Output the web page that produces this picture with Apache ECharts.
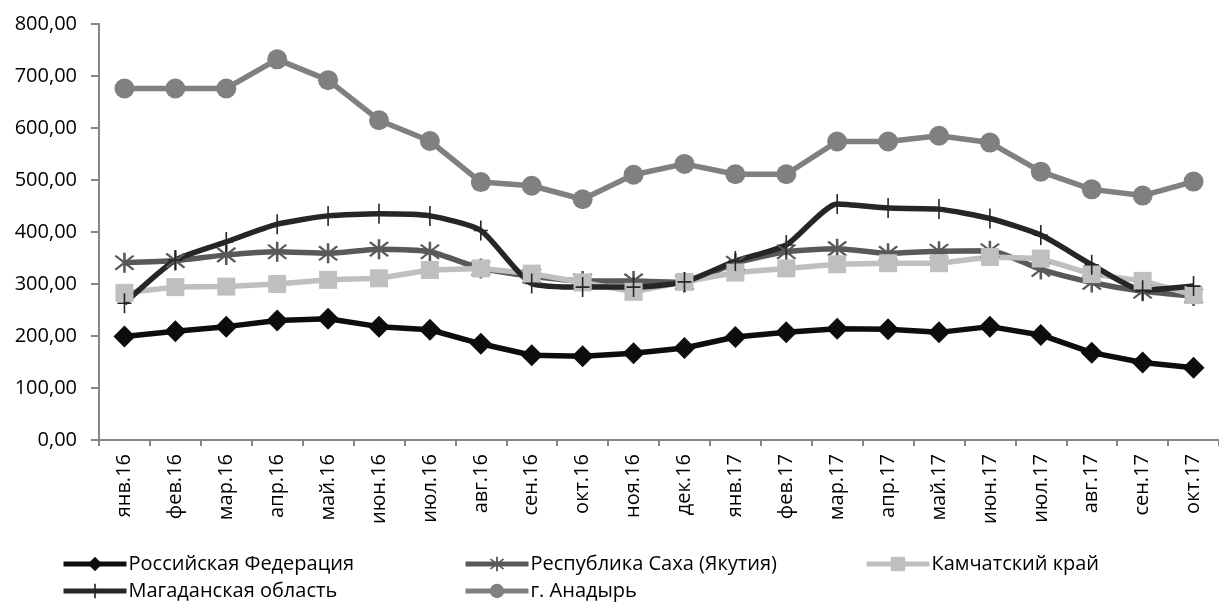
<!DOCTYPE html>
<html>
<head>
<meta charset="utf-8">
<script src="https://cdn.jsdelivr.net/npm/echarts@6/dist/echarts.min.js"></script>
<style>
html,body{margin:0;padding:0;background:#fff;}
#chart{width:1219px;height:604px;}
</style>
</head>
<body>
<div id="chart"></div>
<script>
const categories = ['янв.16','фев.16','мар.16','апр.16','май.16','июн.16','июл.16','авг.16','сен.16','окт.16','ноя.16','дек.16','янв.17','фев.17','мар.17','апр.17','май.17','июн.17','июл.17','авг.17','сен.17','окт.17'];
const yTicks = [0,100,200,300,400,500,600,700,800];
const russia    = [199,209,218,230,233,218,212,185,163,161,167,177,198,207,214,213,207,218,202,168,149,139];
const sakha     = [341,345,356,362,359,367,362,330,315,306,306,303,340,362,368,359,363,364,328,303,286,277];
const kamchatka = [283,294,295,300,308,311,327,330,320,303,285,304,322,330,338,340,340,352,349,319,306,279];
const magadan   = [263,346,381,415,431,435,431,403,301,294,294,304,344,375,454,446,444,426,394,337,288,296];
const anadyr    = [676,676,676,732,692,615,575,496,489,463,510,531,511,511,574,574,585,572,516,482,470,497];

const FONT = '"Open Sans", "Noto Sans", sans-serif';
const FS = 20;

const starPath = 'path://M-1,-10 L1,-10 L1,10 L-1,10 Z M-7.8,-6.4 L-6.4,-7.8 L7.8,6.4 L6.4,7.8 Z M6.4,-7.8 L7.8,-6.4 L-6.4,7.8 L-7.8,6.4 Z';
const plusPath = 'path://M-0.8,-10 L0.8,-10 L0.8,-0.8 L7,-0.8 L7,0.8 L0.8,0.8 L0.8,10 L-0.8,10 L-0.8,0.8 L-7,0.8 L-7,-0.8 L-0.8,-0.8 Z';

function mkSeries(name, data, color, symbol, size, smooth) {
  return {
    name: name, type: 'line', data: data,
    symbol: symbol, symbolSize: size, smooth: smooth || false,
    lineStyle: {color: color, width: 5.5},
    itemStyle: {color: color},
    emphasis: {disabled: true},
    animation: false
  };
}
function mkLegend(name, left, top) {
  return {
    orient: 'horizontal', left: left, top: top, itemWidth: 63, itemHeight: 18,
    padding: 0,
    lineStyle: {width: 5},
    textStyle: {fontFamily: FONT, fontSize: FS, color: '#000', padding: [0, 0, 0, -3]},
    data: [name]
  };
}

const chart = echarts.init(document.getElementById('chart'), null, {renderer: 'canvas'});
chart.setOption({
  backgroundColor: '#ffffff',
  animation: false,
  grid: {left: 99, top: 24, width: 1126, height: 416, containLabel: false},
  xAxis: {
    type: 'category', data: categories, boundaryGap: true,
    axisLine: {show: true, lineStyle: {color: '#868686', width: 2}},
    axisTick: {show: true, length: 6, interval: 0, lineStyle: {color: '#868686', width: 2}},
    axisLabel: {interval: 0, rotate: 90, margin: 14, color: '#000', fontFamily: FONT, fontSize: FS},
    splitLine: {show: false}
  },
  yAxis: {
    type: 'value', min: 0, max: 800, interval: 100,
    axisLine: {show: true, lineStyle: {color: '#868686', width: 2}},
    axisTick: {show: true, length: 8, lineStyle: {color: '#868686', width: 2}},
    axisLabel: {margin: 22, color: '#000', fontFamily: FONT, fontSize: FS,
      formatter: v => yTicks.indexOf(v) >= 0 ? v.toFixed(2).replace('.', ',') : ''},
    splitLine: {show: false}
  },
  legend: [
    mkLegend('Российская Федерация', 61, 554),
    mkLegend('Республика Саха (Якутия)', 463, 554),
    mkLegend('Камчатский край', 864, 554),
    mkLegend('Магаданская область', 61, 581),
    mkLegend('г. Анадырь', 463, 581)
  ],
  series: [
    mkSeries('Российская Федерация', russia, '#0d0d0d', 'diamond', 22),
    mkSeries('Республика Саха (Якутия)', sakha, '#595959', starPath, 20, 0.2),
    mkSeries('Камчатский край', kamchatka, '#bfbfbf', 'rect', 18),
    mkSeries('Магаданская область', magadan, '#262626', plusPath, [14, 20], 0.2),
    mkSeries('г. Анадырь', anadyr, '#808080', 'circle', 20)
  ]
});
</script>
</body>
</html>
